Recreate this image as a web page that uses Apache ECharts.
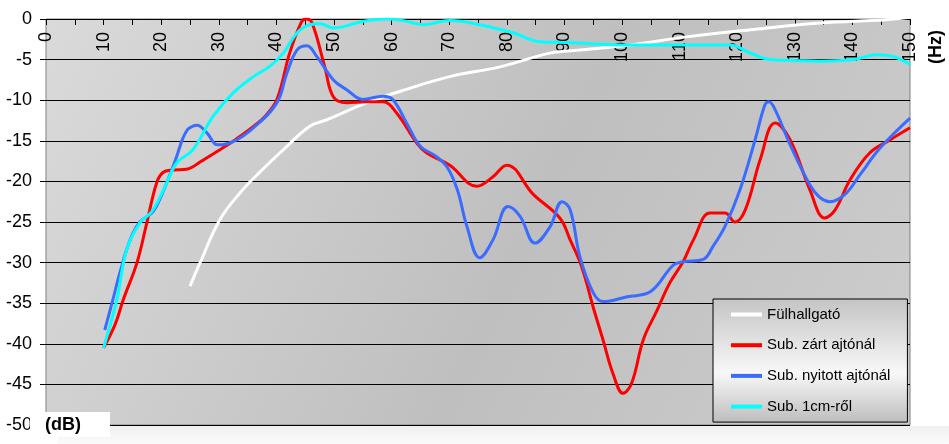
<!DOCTYPE html>
<html>
<head>
<meta charset="utf-8">
<script src="https://cdn.jsdelivr.net/npm/echarts@6/dist/echarts.min.js"></script>
<style>
html,body{margin:0;padding:0;background:#fff;}
#c{width:949px;height:444px;}
</style>
</head>
<body>
<div id="c"></div>
<script>
// Series names (legend)
var seriesNames = ['Fülhallgató', 'Sub. zárt ajtónál', 'Sub. nyitott ajtónál', 'Sub. 1cm-ről'];

// Fülhallgató (white)
var whiteHz = [25, 26.7, 30.2, 33.7, 37.2, 41.2, 45.8, 48.8, 55.7, 61.5, 70.1, 78.8, 87.5, 93.2, 101.4, 111.2, 122.8, 134.4, 145.9, 150];
var whiteDb = [-32.9, -30.1, -24.7, -21.4, -18.8, -16.1, -13.2, -12.4, -10.3, -8.9, -7.1, -5.9, -4.2, -3.8, -3.2, -2.2, -1.3, -0.5, -0.1, 0.2];

// Sub. zárt ajtónál (red)
var redHz = [10, 12, 13.4, 15.8, 17.5, 19.2, 20.3, 22, 24.4, 27, 30.2, 33, 35.9, 38, 40.1, 42.3, 44.4, 45.2, 46.2, 48.4, 49.9, 52.2, 55.7, 58.5, 60.9, 64.4, 66.1, 70.1, 74.8, 77.5, 80, 84.6, 89.2, 91, 93, 95, 96.7, 98.4, 100.2, 101.7, 103.7, 106, 108.3, 110.6, 112.4, 115.3, 117.9, 119.6, 121.4, 124, 126.6, 129.2, 132.6, 135.2, 137, 139.6, 143, 146.5, 150];
var redDb = [-40.5, -37.6, -34.6, -30, -25.1, -20.2, -18.9, -18.6, -18.5, -17.5, -16.1, -14.8, -13.3, -12, -9.9, -4.2, -0.3, 0, -0.5, -5.9, -9.6, -10.3, -10.2, -10.2, -11.6, -15.3, -16.5, -18, -20.6, -19.5, -18, -21.6, -24.5, -27.2, -30.5, -35.5, -39.5, -43.6, -46.1, -44.8, -39.5, -36, -32.5, -29.9, -27.2, -23.9, -23.9, -25, -23.5, -17.3, -12.8, -14.9, -21, -24.5, -23.5, -19.8, -16.5, -14.9, -13.4];

// Sub. nyitott ajtónál (blue)
var blueHz = [10.2, 11.6, 12.8, 14.6, 16.3, 18.6, 20, 21.5, 22.7, 23.7, 24.6, 25.5, 26.2, 27.9, 29.8, 32.5, 36, 40.1, 41.8, 43.6, 45.3, 47, 49.9, 52.2, 55, 58.5, 60.2, 62.6, 65, 67.5, 69.6, 71.4, 73.1, 75.3, 77.6, 80.2, 82.3, 84.9, 87.5, 89.6, 91, 92.7, 95, 96.7, 100.9, 104.9, 108.9, 110.6, 114.1, 115.8, 117.9, 120.5, 123.1, 124.8, 125.5, 126.6, 129.2, 132.6, 134.4, 136.1, 138.7, 141.3, 144.8, 150];
var blueDb = [-38.3, -34.6, -31.3, -27.2, -25, -23.7, -21.8, -19.2, -16.9, -14.8, -13.6, -13.2, -13.1, -14, -15.5, -15.1, -13.4, -10.3, -6.7, -3.8, -3.3, -4.6, -7.5, -8.7, -9.9, -9.5, -9.9, -12.8, -15.7, -16.8, -18.2, -21, -25.6, -29.4, -27.2, -23.1, -24.3, -27.6, -25.6, -22.5, -23.5, -29.3, -33.7, -34.8, -34.2, -33.6, -30.3, -29.9, -29.6, -28, -25.5, -21, -14.9, -10.6, -10.2, -11.2, -15.5, -20.4, -22, -22.5, -21.6, -19.2, -15.9, -12.2];

// Sub. 1cm-ről (cyan)
var cyanHz = [10, 12.3, 14, 16.3, 18.4, 20.7, 22.7, 25.5, 29, 32.5, 36, 38.9, 41.2, 43.6, 45.8, 47.6, 49.9, 55, 59.2, 62, 65.5, 70.1, 75.3, 81.1, 85.8, 90.4, 101.4, 110, 118.8, 121.7, 125.7, 130, 134.4, 140.1, 144.3, 147, 150];
var cyanDb = [-40.5, -34.6, -28.4, -25.1, -23.7, -20.6, -17.7, -16.1, -12, -9.1, -7.1, -5.8, -4.2, -1.7, -0.7, -0.6, -1.1, -0.3, 0, -0.2, -0.7, -0.2, -0.7, -1.7, -2.8, -2.9, -3.2, -3.2, -3.2, -4, -5, -5.1, -5.2, -5, -4.4, -4.6, -5.6];

var seriesColors = ['#ffffff', '#ff0000', '#3a6cff', '#00ffff'];

function pairs(xs, ys) { return xs.map(function (x, i) { return [x, ys[i]]; }); }

var chart = echarts.init(document.getElementById('c'), null, { renderer: 'canvas' });
var G = echarts.graphic;
var font = 'Liberation Sans, Arial, sans-serif';

var datasets = [pairs(whiteHz, whiteDb), pairs(redHz, redDb), pairs(blueHz, blueDb), pairs(cyanHz, cyanDb)];

chart.setOption({
  animation: false,
  backgroundColor: '#ffffff',
  textStyle: { fontFamily: font },
  grid: {
    left: 46, top: 19, right: 39, bottom: 19,
    show: true,
    borderColor: '#808080', borderWidth: 1,
    backgroundColor: new G.LinearGradient(0, 0, 1, 1, [
      { offset: 0, color: '#dadada' },
      { offset: 0.55, color: '#bfbfbf' },
      { offset: 1, color: '#cdcdcd' }
    ])
  },
  xAxis: {
    type: 'value', position: 'top', min: 0, max: 150, interval: 5,
    axisLine: { show: true, lineStyle: { color: '#000', width: 1 } },
    axisTick: { show: true, inside: true, length: 6, lineStyle: { color: '#000', width: 1 } },
    axisLabel: {
      inside: true, rotate: 90, margin: 13,
      fontSize: 18, color: '#000', fontFamily: font,
      formatter: function (v) { return v % 10 === 0 ? String(v) : ''; }
    },
    splitLine: { show: false }
  },
  yAxis: {
    type: 'value', min: -50, max: 0, interval: 5,
    axisLine: { show: false },
    axisTick: { show: true, length: 6, lineStyle: { color: '#000', width: 1 } },
    axisLabel: { margin: 14, fontSize: 18, color: '#000', fontFamily: font },
    splitLine: { show: true, lineStyle: { color: '#000', width: 1 } }
  },
  legend: {
    orient: 'vertical',
    left: 713, top: 299,
    padding: [8, 17, 8, 18],
    icon: 'rect',
    itemWidth: 31, itemHeight: 4, itemGap: 15.7, itemTextGap: 5,
    borderColor: '#000', borderWidth: 1,
    backgroundColor: new G.LinearGradient(0, 0, 0, 1, [
      { offset: 0, color: '#c4c4c4' },
      { offset: 0.6, color: '#f8f8f8' },
      { offset: 1, color: '#bdbdbd' }
    ]),
    textStyle: { fontSize: 15, lineHeight: 15, color: '#000', fontFamily: font },
    data: seriesNames
  },
  graphic: [
    {
      type: 'rect', silent: true, z: -1,
      shape: { x: 58, y: 426, width: 891, height: 18 },
      style: { fill: new G.LinearGradient(0, 0, 0, 1, [
        { offset: 0, color: '#f0f0f0' }, { offset: 1, color: '#fbfbfb' }
      ]) }
    },
    {
      type: 'rect', silent: true, z: 10,
      shape: { x: 30, y: 412, width: 80, height: 25 },
      style: { fill: '#ffffff' }
    },
    {
      type: 'text', silent: true, z: 11,
      x: 45, y: 425,
      style: { text: '(dB)', fontSize: 18, fontWeight: 'bold', fontFamily: font, fill: '#000', verticalAlign: 'middle', align: 'left' }
    },
    {
      type: 'text', silent: true, z: 11,
      x: 936, y: 47, rotation: Math.PI / 2,
      style: { text: '(Hz)', fontSize: 18, fontWeight: 'bold', fontFamily: font, fill: '#000', verticalAlign: 'middle', align: 'center' }
    }
  ],
  series: seriesNames.map(function (name, i) {
    return {
      name: name, type: 'line',
      data: datasets[i],
      smooth: 0.4,
      symbol: 'none', showSymbol: false,
      clip: true,
      color: seriesColors[i],
      lineStyle: { color: seriesColors[i], width: 3 }
    };
  })
});
</script>
</body>
</html>
